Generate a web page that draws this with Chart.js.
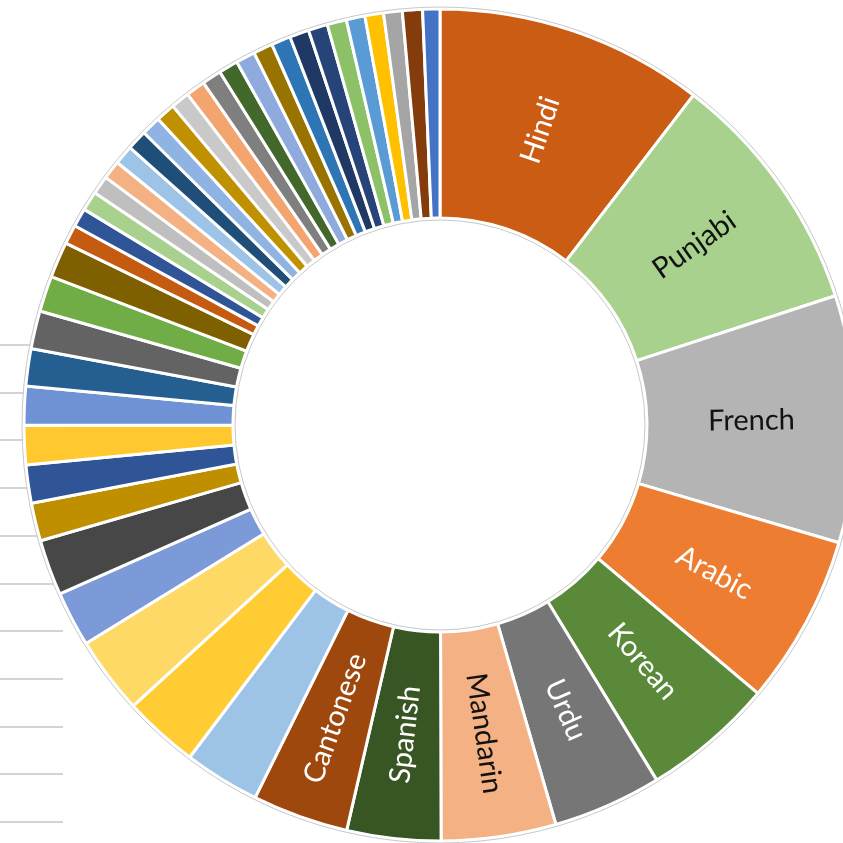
<!DOCTYPE html>
<html>
<head>
<meta charset="utf-8">
<script src="https://cdn.jsdelivr.net/npm/chart.js@4"></script>
<style>
  html, body { margin: 0; padding: 0; background: #fff; overflow: hidden; }
  #wrap { position: relative; width: 843px; height: 843px; overflow: hidden; }
  #rules {
    position: absolute; left: 0; top: 344px; width: 63px; height: 499px;
    background: repeating-linear-gradient(to bottom, #d4d4d4 0, #d4d4d4 2px, transparent 2px, transparent 47.7px);
  }
  #myChart { position: absolute; left: 0; top: 0; }
</style>
</head>
<body>
<div id="wrap">
  <div id="rules"></div>
  <canvas id="myChart" width="880" height="850"></canvas>
</div>
<script>
// named slices first, then the unnamed small ones
const namedLanguages = ['Hindi', 'Punjabi', 'French', 'Arabic', 'Korean', 'Urdu', 'Mandarin', 'Spanish', 'Cantonese'];
const otherLanguages = Array.from({length: 37}, (_, k) => 'Other ' + (k + 1));
const languages = namedLanguages.concat(otherLanguages);

// share of the ring (in degrees of 360)
const namedShares = [37.5, 34.3, 34.5, 23.7, 18.4, 15.2, 16.0, 13.1, 13.4];
const mediumShares = [10.6, 10.5, 10.8, 7.7, 7.8, 5.3, 5.3, 5.5, 5.4, 5.2, 5.3, 5.0, 5.0];
const smallShares = [2.7, 2.6, 2.7, 2.6, 2.6, 2.7, 2.8, 2.7, 2.7, 2.6, 2.7, 2.7,
                     2.7, 2.7, 2.7, 2.7, 2.7, 2.7, 2.7, 2.6, 2.6, 2.6, 2.8, 2.4];
const shares = namedShares.concat(mediumShares, smallShares);

const sliceColors = [
  '#cb5c14', '#a9d18e', '#b4b4b4', '#ed7d31', '#5a8a39', '#767676', '#f4b183', '#375623', '#9e480e',
  '#9dc3e6', '#ffcd33', '#ffd966', '#7c9ad8', '#474747', '#bf8f00', '#2f5597', '#ffc82e', '#6e92d4',
  '#255e91', '#636363', '#70ad47', '#7f6000',
  '#c55a11', '#2f5597', '#a9d18e', '#bfbfbf', '#f4b183', '#9dc3e6', '#1f4e79', '#8fb4e3', '#bf9000',
  '#c9c9c9', '#f3a46f', '#7f7f7f', '#43682b', '#8faadc', '#997300', '#2e75b6', '#203864', '#264478',
  '#8cc168', '#5b9bd5', '#ffc000', '#a5a5a5', '#843c0c', '#4472c4'
];
const textColors = ['#ffffff', '#111111', '#111111', '#ffffff', '#ffffff', '#ffffff', '#111111', '#ffffff', '#ffffff'];

// thin grey rim outside and inside the ring
const ringOutline = {
  id: 'ringOutline',
  afterDatasetsDraw(chart) {
    const arc = chart.getDatasetMeta(0).data[0];
    const {x, y, innerRadius, outerRadius} = arc.getProps(['x', 'y', 'innerRadius', 'outerRadius'], true);
    const ctx = chart.ctx;
    ctx.save();
    ctx.strokeStyle = '#c8c8c8';
    ctx.lineWidth = 1;
    ctx.beginPath();
    ctx.arc(x, y, outerRadius + 2, 0, Math.PI * 2);
    ctx.stroke();
    ctx.beginPath();
    ctx.arc(x, y, innerRadius - 2, 0, Math.PI * 2);
    ctx.stroke();
    ctx.restore();
  }
};

// category names written along the radius of the named slices
const sliceLabels = {
  id: 'sliceLabels',
  afterDatasetsDraw(chart) {
    const ctx = chart.ctx;
    chart.getDatasetMeta(0).data.forEach((arc, i) => {
      if (i >= namedLanguages.length) return;
      const p = arc.getProps(['x', 'y', 'startAngle', 'endAngle', 'innerRadius', 'outerRadius'], true);
      const mid = (p.startAngle + p.endAngle) / 2;
      const r = (p.innerRadius + p.outerRadius) / 2;
      ctx.save();
      ctx.translate(p.x + Math.cos(mid) * r, p.y + Math.sin(mid) * r);
      ctx.rotate(mid > Math.PI / 2 ? mid - Math.PI : mid);
      ctx.font = '29px Lato, "Open Sans", sans-serif';
      ctx.fillStyle = textColors[i];
      ctx.textAlign = 'center';
      ctx.textBaseline = 'middle';
      ctx.fillText(languages[i], 0, 0);
      ctx.restore();
    });
  }
};

const ctx = document.getElementById('myChart');

new Chart(ctx, {
  type: 'doughnut',
  data: {
    labels: languages,
    datasets: [{
      data: shares,
      backgroundColor: sliceColors,
      borderColor: '#ffffff',
      borderWidth: 3,
      radius: 416,
      cutout: '49.76%'
    }]
  },
  options: {
    responsive: false,
    animation: false,
    layout: { padding: 0 },
    plugins: {
      legend: { display: false },
      tooltip: { enabled: false }
    }
  },
  plugins: [ringOutline, sliceLabels]
});
</script>
</body>
</html>
